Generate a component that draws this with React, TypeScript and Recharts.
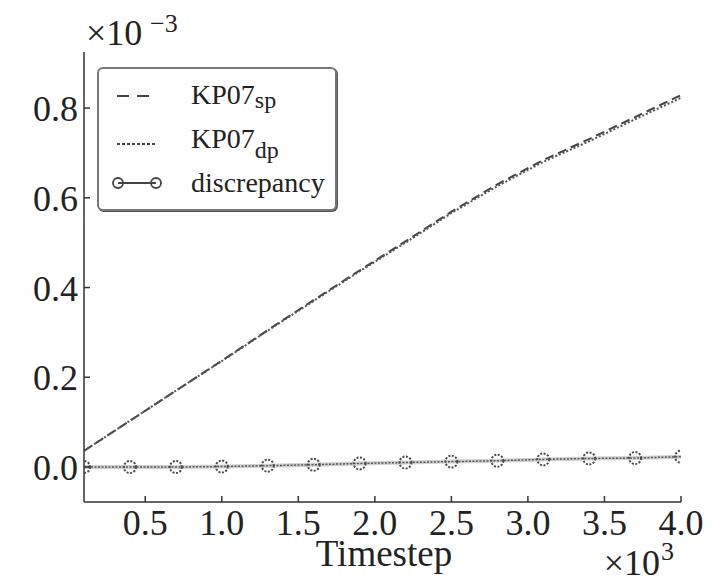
import { LineChart, Line, XAxis, YAxis, Legend } from "recharts";

// timestep (x10^3) and values (x10^-3)
const timesteps = [0.1, 0.4, 0.7, 1.0, 1.3, 1.6, 1.9, 2.2, 2.5, 2.8, 3.1, 3.4, 3.7, 4.0];
const kp07Sp = [0.036, 0.103, 0.17, 0.237, 0.305, 0.372, 0.438, 0.503, 0.569, 0.63, 0.684, 0.731, 0.78, 0.829];
const kp07Dp = [0.036, 0.103, 0.17, 0.236, 0.304, 0.37, 0.436, 0.5, 0.566, 0.626, 0.68, 0.726, 0.775, 0.823];
const discrepancy = [0.0, 0.0, 0.0, 0.001, 0.003, 0.005, 0.008, 0.01, 0.012, 0.014, 0.017, 0.019, 0.02, 0.023];

const xTicks = [0.5, 1.0, 1.5, 2.0, 2.5, 3.0, 3.5, 4.0];
const yTicks = [0.0, 0.2, 0.4, 0.6, 0.8];

const legendItems = [
  { base: "KP07", sub: "sp", kind: "dash" },
  { base: "KP07", sub: "dp", kind: "dot" },
  { base: "discrepancy", sub: "", kind: "marker" },
];

const data = timesteps.map((t, i) => ({
  t,
  sp: kp07Sp[i],
  dp: kp07Dp[i],
  disc: discrepancy[i],
}));

const FONT = '"Liberation Serif", "Times New Roman", Times, serif';
const INK = "#333";
const TICK = 6;

const BottomTick = (p: any) => (
  <g>
    <line x1={p.x} x2={p.x} y1={p.y} y2={p.y - TICK} stroke={INK} strokeWidth={1.5} />
    <text x={p.x} y={p.y + 33} textAnchor="middle" style={{ fontFamily: FONT }} fontSize={36} fill="#222">
      {Number(p.payload.value).toFixed(1)}
    </text>
  </g>
);

const LeftTick = (p: any) => (
  <g>
    <line x1={p.x} x2={p.x + TICK} y1={p.y} y2={p.y} stroke={INK} strokeWidth={1.5} />
    <text x={p.x - 6} y={p.y + 13} textAnchor="end" style={{ fontFamily: FONT }} fontSize={36} fill="#222">
      {Number(p.payload.value).toFixed(1)}
    </text>
  </g>
);

const TopTick = (p: any) => (
  <line x1={p.x} x2={p.x} y1={p.y} y2={p.y + TICK} stroke={INK} strokeWidth={1.5} />
);

const RightTick = (p: any) => (
  <line x1={p.x} x2={p.x - TICK} y1={p.y} y2={p.y} stroke={INK} strokeWidth={1.5} />
);

const XLabel = () => (
  <g style={{ fontFamily: FONT }} fill="#222">
    <text x={384} y={566} textAnchor="middle" fontSize={37}>
      Timestep
    </text>
    <text x={660} y={575} textAnchor="end" fontSize={36}>
      ×10
    </text>
    <text x={661} y={560} fontSize={26}>
      3
    </text>
  </g>
);

const YLabel = () => (
  <g style={{ fontFamily: FONT }} fill="#222">
    <text x={86} y={45} fontSize={36}>
      ×10
    </text>
    <text x={150} y={32} fontSize={26}>
      −3
    </text>
  </g>
);

function LegendBox() {
  return (
    <div
      style={{
        width: 236,
        height: 140,
        border: "2px solid #777",
        borderRadius: 6,
        boxShadow: "1px 1px 0 #555",
        background: "#fff",
        fontFamily: FONT,
        color: "#222",
        position: "relative",
      }}
    >
      {legendItems.map((it, i) => (
        <div
          key={it.base + it.sub}
          style={{ position: "absolute", left: 0, top: 10 + i * 44, height: 40, width: 236 }}
        >
          <svg width={60} height={40} style={{ position: "absolute", left: 12, top: 0 }}>
            {it.kind === "dash" && (
              <line x1={6} x2={46} y1={17} y2={17} stroke="#444" strokeWidth={2} strokeDasharray="12 8" />
            )}
            {it.kind === "dot" && (
              <line x1={6} x2={46} y1={21} y2={21} stroke="#444" strokeWidth={2} strokeDasharray="3 2" />
            )}
            {it.kind === "marker" && (
              <g>
                <line x1={7} x2={45} y1={16} y2={16} stroke="#444" strokeWidth={2} />
                <circle cx={7} cy={16} r={5} fill="none" stroke="#444" strokeWidth={1.8} />
                <circle cx={45} cy={16} r={5} fill="none" stroke="#444" strokeWidth={1.8} />
              </g>
            )}
          </svg>
          <div style={{ position: "absolute", left: 92, top: 0, fontSize: 28, lineHeight: "32px", whiteSpace: "nowrap" }}>
            {it.base}
            {it.sub && (
              <span style={{ fontSize: 24, position: "relative", top: i === 0 ? 4 : 10 }}>{it.sub}</span>
            )}
          </div>
        </div>
      ))}
    </div>
  );
}

export default function App() {
  return (
    <div style={{ position: "absolute", left: 0, top: 0, width: 722, height: 578, background: "#fff" }}>
      <LineChart width={722} height={578} data={data} margin={{ top: 52, right: 41, left: 0, bottom: 0 }}>
        <XAxis
          dataKey="t"
          type="number"
          domain={[0.1, 4.0]}
          ticks={xTicks}
          allowDataOverflow
          height={76}
          tickSize={0}
          tickMargin={0}
          tickLine={false}
          axisLine={{ stroke: INK, strokeWidth: 1.5 }}
          tick={BottomTick}
          label={{ content: XLabel }}
        />
        <XAxis
          xAxisId="top"
          orientation="top"
          dataKey="t"
          type="number"
          domain={[0.1, 4.0]}
          ticks={xTicks}
          allowDataOverflow
          height={0}
          tickSize={0}
          tickMargin={0}
          tickLine={false}
          axisLine={{ stroke: INK, strokeWidth: 1.5 }}
          tick={TopTick}
        />
        <YAxis
          type="number"
          domain={[-0.078, 0.925]}
          ticks={yTicks}
          allowDataOverflow
          width={84}
          tickSize={0}
          tickMargin={0}
          tickLine={false}
          axisLine={{ stroke: INK, strokeWidth: 1.5 }}
          tick={LeftTick}
          label={{ content: YLabel }}
        />
        <YAxis
          yAxisId="right"
          orientation="right"
          type="number"
          domain={[-0.078, 0.925]}
          ticks={yTicks}
          allowDataOverflow
          width={0}
          tickSize={0}
          tickMargin={0}
          tickLine={false}
          axisLine={{ stroke: INK, strokeWidth: 1.5 }}
          tick={RightTick}
        />
        <Legend
          layout="vertical"
          align="center"
          verticalAlign="middle"
          wrapperStyle={{ left: 97, top: 67, width: 240, height: 144 }}
          content={() => <LegendBox />}
        />
        <Line
          dataKey="sp"
          stroke="#444"
          strokeWidth={2}
          strokeDasharray="9 5"
          dot={false}
          isAnimationActive={false}
        />
        <Line
          dataKey="dp"
          stroke="#555"
          strokeWidth={2}
          strokeDasharray="2 2"
          dot={false}
          isAnimationActive={false}
        />
        <Line
          dataKey="disc"
          stroke="#d0d0d0"
          strokeWidth={4}
          dot={false}
          legendType="none"
          isAnimationActive={false}
        />
        <Line
          dataKey="disc"
          stroke="#555"
          strokeWidth={1.5}
          strokeDasharray="2 1.5"
          dot={{ r: 6, fill: "none", stroke: "#4a4a4a", strokeWidth: 2 }}
          isAnimationActive={false}
        />
      </LineChart>
    </div>
  );
}
